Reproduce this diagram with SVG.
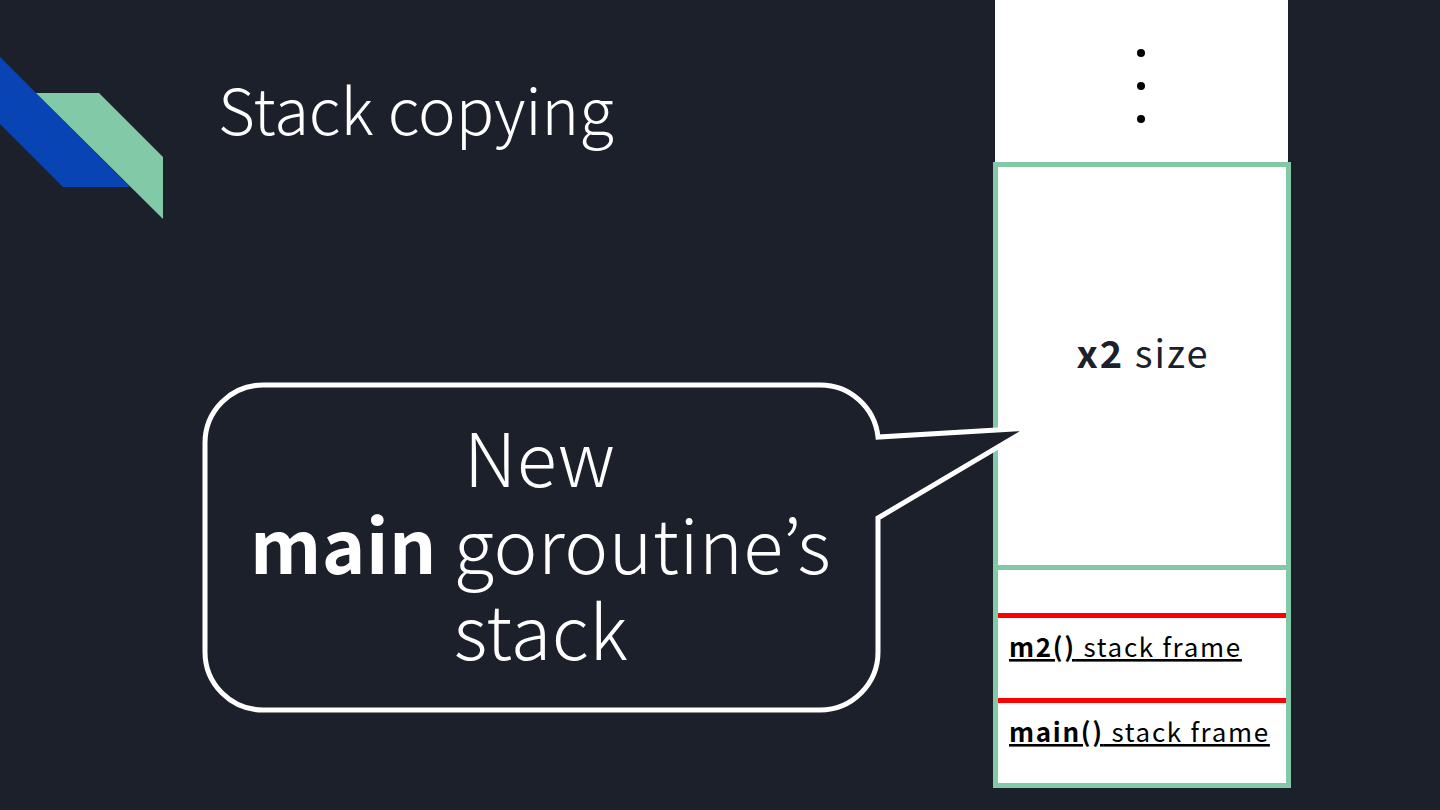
<svg xmlns="http://www.w3.org/2000/svg" width="1440" height="810" viewBox="0 0 1440 810">
<style>
.t{font-family:"Noto Sans CJK JP","Noto Sans",sans-serif}
.lt{font-weight:300}
.b{font-weight:700}
.frame{fill:#ffffff;stroke:#82c9a8;stroke-width:5}
.red{stroke:#ff0000;stroke-width:5}
.fr{font-size:26px;fill:#000;text-decoration:underline;letter-spacing:1.7px}
</style>
<rect x="0" y="0" width="1440" height="810" fill="#1c202b"/>
<g id="logo">
<polygon points="0,57 130,187 63,187 0,124" fill="#0844b3"/>
<polygon points="36,93 99,93 163,157 163,219" fill="#82c9a8"/>
</g>
<text class="t lt" x="218" y="135" font-size="63.5" fill="#ffffff">Stack copying</text>
<g id="stack-top">
<rect x="995" y="0" width="293" height="163" fill="#ffffff"/>
<circle cx="1141" cy="53" r="4" fill="#000"/>
<circle cx="1141" cy="86" r="4" fill="#000"/>
<circle cx="1141" cy="119" r="4" fill="#000"/>
</g>
<g id="new-space">
<rect class="frame" x="995.5" y="164.5" width="293" height="403"/>
<text class="t" x="1143" y="368" font-size="38" fill="#1c202b" text-anchor="middle" letter-spacing="2"><tspan class="b">x2</tspan> size</text>
</g>
<g id="frames">
<rect class="frame" x="995.5" y="567.5" width="293" height="218"/>
<line class="red" x1="998" y1="615.5" x2="1286" y2="615.5"/>
<line class="red" x1="998" y1="700.5" x2="1286" y2="700.5"/>
<text class="t fr" x="1009" y="657"><tspan class="b">m2()</tspan> stack frame</text>
<text class="t fr" x="1009" y="742"><tspan class="b">main()</tspan> stack frame</text>
</g>
<g id="callout">
<path d="M263,385 H820 A58,58 0 0 1 878,437 L1030,428 L878,518 V652 A58,58 0 0 1 820,710 H263 A58,58 0 0 1 205,652 V443 A58,58 0 0 1 263,385 Z" fill="#1c202b" stroke="#ffffff" stroke-width="5" stroke-linejoin="miter"/>
<text class="t lt" font-size="74" fill="#ffffff" text-anchor="middle" letter-spacing="0.5">
<tspan x="548" y="487">New</tspan>
<tspan x="549" y="574"><tspan class="b">main</tspan> goroutine’s</tspan>
<tspan x="541" y="660">stack</tspan>
</text>
</g>
<g id="connectors"/>
</svg>
